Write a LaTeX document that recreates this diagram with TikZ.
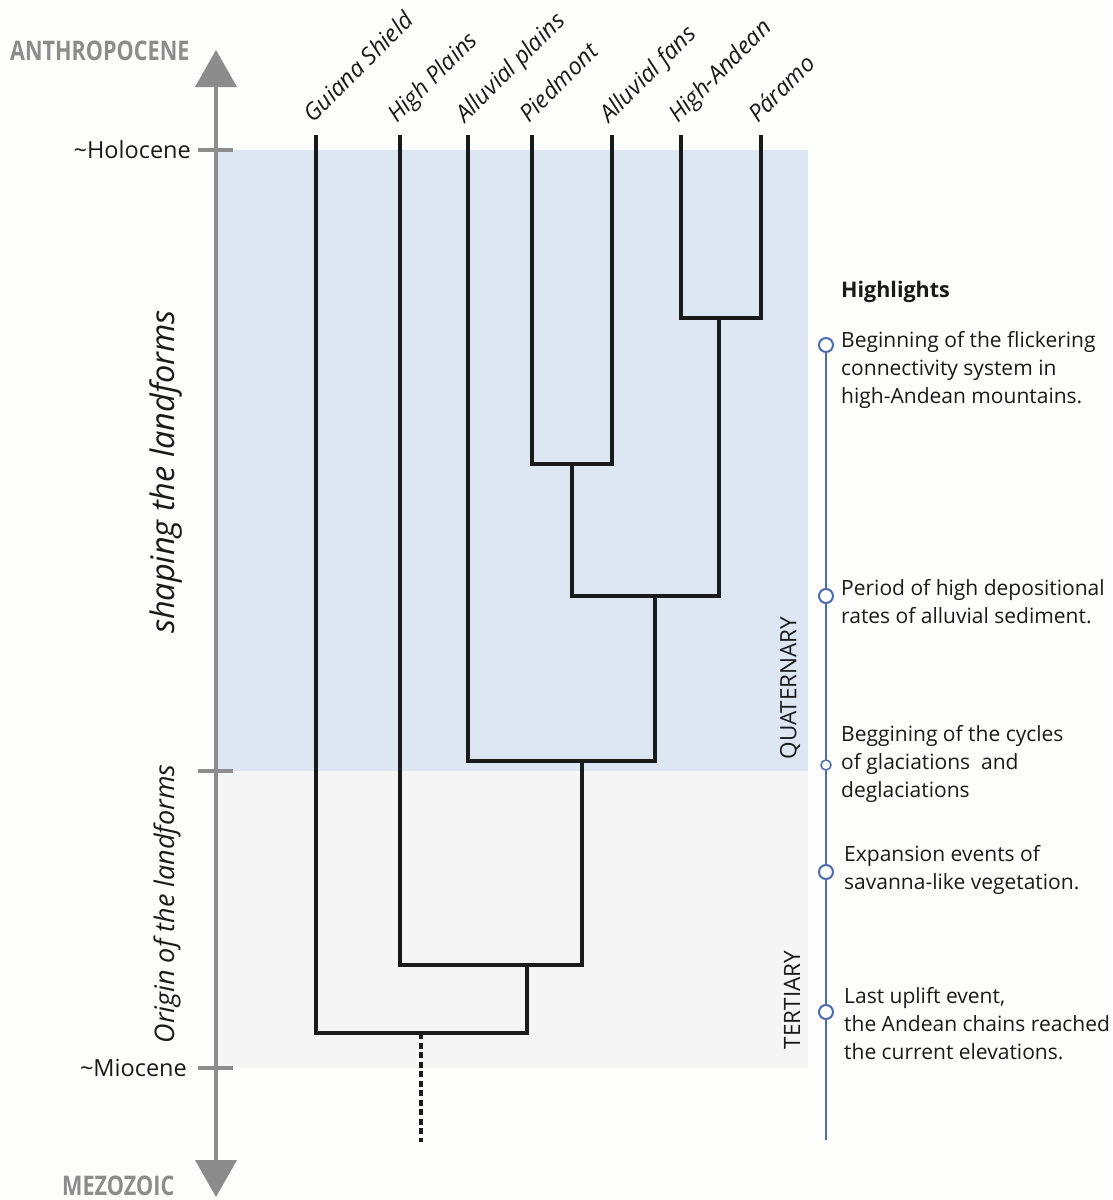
\documentclass[tikz,border=0pt]{standalone}
\usepackage{fontspec}
\usepackage{graphicx}
\setmainfont{Open Sans}
\definecolor{qblue}{HTML}{DDE7F4}
\definecolor{tgray}{HTML}{F5F5F5}
\definecolor{pagebg}{HTML}{FDFDFC}
\definecolor{axisgray}{HTML}{8C8C8C}
\definecolor{tlblue}{HTML}{4A6DB0}
\definecolor{txt}{HTML}{1A1A1A}
\begin{document}
\begin{tikzpicture}[x=1pt,y=-1pt,
  branch/.style={line width=3.2pt, draw=txt, line join=miter},
  axisline/.style={line width=4pt, draw=axisgray},
  tiplabel/.style={rotate=45, anchor=base west, inner sep=0pt, font=\fontsize{23.5}{28}\selectfont\itshape, text=txt},
  eralabel/.style={anchor=east, inner sep=0pt, font=\fontsize{23.5}{28}\selectfont, text=txt},
  biglabel/.style={inner sep=0pt, font=\fontsize{27}{30}\selectfont\bfseries, text=axisgray},
  hlt/.style={anchor=west, inner sep=0pt, align=left, font=\fontsize{21}{28}\selectfont, text=txt},
  dot/.style={circle, draw=tlblue, fill=white, line width=2pt, minimum size=14pt, inner sep=0pt},
  period/.style={rotate=90, inner sep=0pt, font=\fontsize{22.5}{26}\selectfont, text=txt},
  phase/.style={rotate=90, inner sep=0pt, text=txt}]
\fill[pagebg] (0,0) rectangle (1112,1200);
\useasboundingbox (0,0) rectangle (1112,1200);
% background bands
\fill[qblue] (218,150) rectangle (808,771);
\fill[tgray] (218,771) rectangle (808,1068);
% time axis
\coordinate (axtop) at (216,86);
\coordinate (axbot) at (216,1161);
\draw[axisline] (axtop) -- (axbot);
\fill[axisgray] (216,50) -- (237,87) -- (195,87) -- cycle;
\fill[axisgray] (216,1197) -- (237,1160) -- (195,1160) -- cycle;
\draw[axisline] (198,150) -- (233,150);
\draw[axisline] (198,771) -- (233,771);
\draw[axisline] (198,1068) -- (233,1068);
\node[biglabel, anchor=base west] (anthro) at (10,60) {\scalebox{0.8}[1]{ANTHROPOCENE}};
\node[biglabel, anchor=base west] (mezo) at (62,1195) {\scalebox{0.8}[1]{MEZOZOIC}};
\node[eralabel] (holo) at (191,150) {\textasciitilde Holocene};
\node[eralabel] (mio) at (187,1068) {\textasciitilde Miocene};
\node[phase, font=\fontsize{32.5}{36}\selectfont\itshape] (shape) at (166,472) {shaping the landforms};
\node[phase, font=\fontsize{27}{30}\selectfont\itshape] (orig) at (167,904) {Origin of the landforms};
\node[period] (quat) at (790,688) {QUATERNARY};
\node[period] (tert) at (792,1000) {TERTIARY};
% tips
\coordinate (t1) at (316,135);
\coordinate (t2) at (400,135);
\coordinate (t3) at (468,135);
\coordinate (t4) at (532,135);
\coordinate (t5) at (612,135);
\coordinate (t6) at (681,135);
\coordinate (t7) at (761,135);
\node[tiplabel] (l1) at (313,124) {Guiana Shield};
\node[tiplabel] (l2) at (397,124) {High Plains};
\node[tiplabel] (l3) at (465,124) {Alluvial plains};
\node[tiplabel] (l4) at (529,124) {Piedmont};
\node[tiplabel] (l5) at (609,124) {Alluvial fans};
\node[tiplabel] (l6) at (678,124) {High-Andean};
\node[tiplabel] (l7) at (758,124) {Páramo};
% internal nodes
\coordinate (j1) at (719,318);
\coordinate (j2) at (572,464);
\coordinate (j3) at (655,596);
\coordinate (j4) at (582,761);
\coordinate (j5) at (527,965);
\coordinate (j6) at (421,1033);
\coordinate (root) at (421,1142);
\draw[branch] (t6) |- (j1) -| (t7);
\draw[branch] (t4) |- (j2) -| (t5);
\draw[branch] (j2) |- (j3) -| (j1);
\draw[branch] (t3) |- (j4) -| (j3);
\draw[branch] (t2) |- (j5) -| (j4);
\draw[branch] (t1) |- (j6) -| (j5);
\draw[line width=3.5pt, draw=txt, dash pattern=on 6pt off 3.5pt] (j6) -- (root);
% highlights timeline
\coordinate (tltop) at (826,345);
\coordinate (tlend) at (826,1140);
\draw[tlblue, line width=2pt] (tltop) -- (tlend);
\node[dot] (h1) at (826,345) {};
\node[dot] (h2) at (826,596) {};
\node[dot, minimum size=10pt, line width=1.5pt] (h3) at (826,765) {};
\node[dot] (h4) at (826,872) {};
\node[dot] (h5) at (826,1012) {};
\node[anchor=west, inner sep=0pt, font=\fontsize{21.5}{24}\selectfont\bfseries, text=txt] (hl) at (841,292) {Highlights};
\node[hlt] (x1) at (841,370) {Beginning of the flickering\\connectivity system in\\high-Andean mountains.};
\node[hlt] (x2) at (841,602) {Period of high depositional\\rates of alluvial sediment.};
\node[hlt] (x3) at (841,764) {Beggining of the cycles\\of glaciations\ \ and\\deglaciations};
\node[hlt] (x4) at (844,870) {Expansion events of\\savanna-like vegetation.};
\node[hlt] (x5) at (844,1024) {Last uplift event,\\the Andean chains reached\\the current elevations.};
\end{tikzpicture}
\end{document}
